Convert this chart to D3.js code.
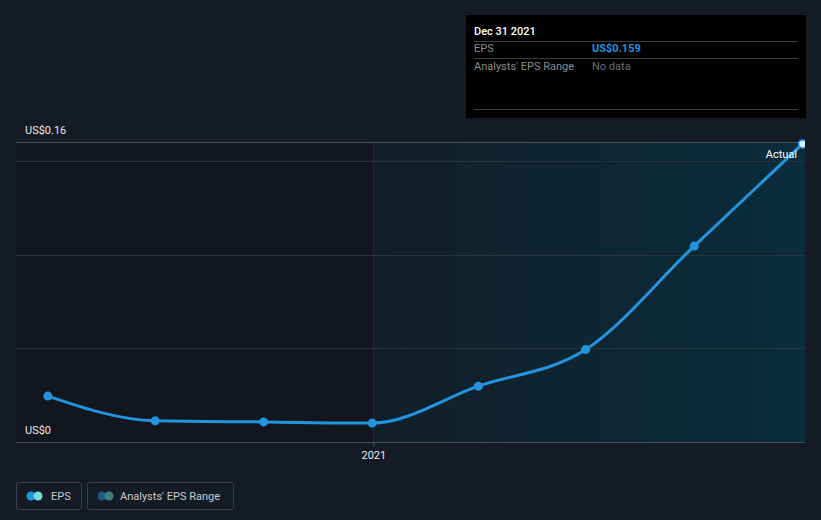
<!DOCTYPE html>
<html><head><meta charset="utf-8">
<script src="https://cdn.jsdelivr.net/npm/d3@7"></script>
<style>
html,body{margin:0;padding:0;background:#151b24;}
svg{display:block;font-family:Roboto, "Noto Sans", sans-serif;}
</style></head>
<body><svg id="c" width="821" height="520"></svg>
<script>
const dates = ["2020-03-31","2020-06-30","2020-09-30","2020-12-31","2021-03-31","2021-06-30","2021-09-30","2021-12-31"];
const epsValues = [0.0245, 0.0113, 0.0107, 0.0101, 0.0298, 0.0493, 0.1045, 0.159];
const yTickValues = [0, 0.05, 0.1, 0.15, 0.16];
const yLabelValues = [0, 0.16];
const xTickDates = ["2021-01-01"];
const xTickLabels = ["2021"];
const tooltipTitle = "Dec 31 2021";
const tooltipRows = [["EPS","US$0.159"],["Analysts' EPS Range","No data"]];
const legendItems = ["EPS","Analysts' EPS Range"];

const parse = d3.timeParse("%Y-%m-%d");
const data = dates.map((d,i)=>({date:parse(d), v:epsValues[i]}));
const svg = d3.select("#c");
const L=16, R=805, T=142, B=442;
const x = d3.scaleTime().domain([parse("2020-03-04"), parse("2022-01-02")]).range([L,R]);
const y = d3.scaleLinear().domain([0,0.16]).range([B,T]);
const splitX = x(parse(xTickDates[0]));

const defs = svg.append("defs");
const g1 = defs.append("linearGradient").attr("id","fc").attr("x1","0").attr("x2","1").attr("y1","0").attr("y2","0");
g1.append("stop").attr("offset","0").attr("stop-color","#111f2a");
g1.append("stop").attr("offset","1").attr("stop-color","#0a2c3b");
defs.append("clipPath").attr("id","clip").append("rect").attr("x",L).attr("y",0).attr("width",R-L).attr("height",520);

// past region
svg.append("rect").attr("x",L).attr("y",T).attr("width",splitX-L).attr("height",B-T).attr("fill","#12161e");
svg.append("rect").attr("x",splitX).attr("y",T).attr("width",R-splitX).attr("height",B-T).attr("fill","url(#fc)");
svg.append("line").attr("x1",splitX).attr("x2",splitX).attr("y1",T).attr("y2",B).attr("stroke","#1f2e36").attr("stroke-width",1);

// gridlines
yTickValues.forEach(v=>{
  svg.append("line").attr("x1",L).attr("x2",R).attr("y1",Math.round(y(v))+0.5).attr("y2",Math.round(y(v))+0.5)
    .attr("stroke", (v===0||v===0.16)?"#4a5058":"#2a323a").attr("stroke-width",1);
});

// y labels
yLabelValues.forEach(v=>{
  svg.append("text").attr("x",25).attr("y",y(v)-8).attr("fill","#e8eaed").attr("font-size",11)
    .text(v===0?"US$0":"US$"+d3.format(".2f")(v));
});

// x axis
const xAxis = d3.axisBottom(x).tickValues(xTickDates.map(parse)).tickFormat((d,i)=>xTickLabels[i]).tickSize(5).tickPadding(4);
const ax = svg.append("g").attr("transform",`translate(0,${B})`).call(xAxis);
ax.select(".domain").remove();
ax.selectAll(".tick line").attr("stroke","#4a5058");
ax.selectAll(".tick text").attr("fill","#e8eaed").attr("font-size",11).attr("font-family","Roboto, sans-serif");

// line
const line = d3.line().x(d=>x(d.date)).y(d=>y(d.v)).curve(d3.curveMonotoneX);
const pg = svg.append("g").attr("clip-path","url(#clip)");
pg.append("path").datum(data).attr("d",line).attr("fill","none").attr("stroke","#2394df").attr("stroke-width",3);
pg.selectAll("circle.p").data(data.slice(0,-1)).enter().append("circle").attr("class","p")
  .attr("cx",d=>x(d.date)).attr("cy",d=>y(d.v)).attr("r",4.5).attr("fill","#2394df");
const last = data[data.length-1];
pg.append("circle").attr("cx",x(last.date)).attr("cy",y(last.v)).attr("r",4).attr("fill","#d8eef8").attr("stroke","#2394df").attr("stroke-width",1.5);

svg.append("text").attr("x",797).attr("y",158).attr("text-anchor","end").attr("fill","#ffffff").attr("font-size",11).text("Actual");

// tooltip
const tt = svg.append("g");
tt.append("rect").attr("x",466).attr("y",15).attr("width",340).attr("height",103).attr("fill","#000000");
tt.append("text").attr("x",474).attr("y",35).attr("fill","#ffffff").attr("font-size",11).attr("font-weight",500).text(tooltipTitle);
[41.5,58.5,109.5].forEach(yy=>tt.append("line").attr("x1",474).attr("x2",798).attr("y1",yy).attr("y2",yy).attr("stroke","#3a3d42"));
tooltipRows.forEach((r,i)=>{
  const yy = 52+i*18;
  tt.append("text").attr("x",474).attr("y",yy).attr("fill","#8a8d92").attr("font-size",11).text(r[0]);
  tt.append("text").attr("x",592).attr("y",yy).attr("fill", i===0?"#2394df":"#6b6e73").attr("font-size",11).attr("font-weight",i===0?700:400).text(r[1]);
});

// legend
const lg = svg.append("g");
const boxes = [{x:16,w:65,c1:"#2394df",c2:"#6de0d8"},{x:87,w:146,c1:"#1f5a8a",c2:"#3f7f7f"}];
boxes.forEach((b,i)=>{
  lg.append("rect").attr("x",b.x+0.5).attr("y",482.5).attr("width",b.w).attr("height",27).attr("rx",2).attr("fill","none").attr("stroke","#3a3f47");
  lg.append("circle").attr("cx",b.x+15).attr("cy",496).attr("r",4.5).attr("fill",b.c1);
  lg.append("circle").attr("cx",b.x+22).attr("cy",496).attr("r",4.5).attr("fill",b.c2);
  lg.append("text").attr("x",b.x+(i===0?35:33)).attr("y",500).attr("fill","#c8cacd").attr("font-size",11).text(legendItems[i]);
});
</script></body></html>
